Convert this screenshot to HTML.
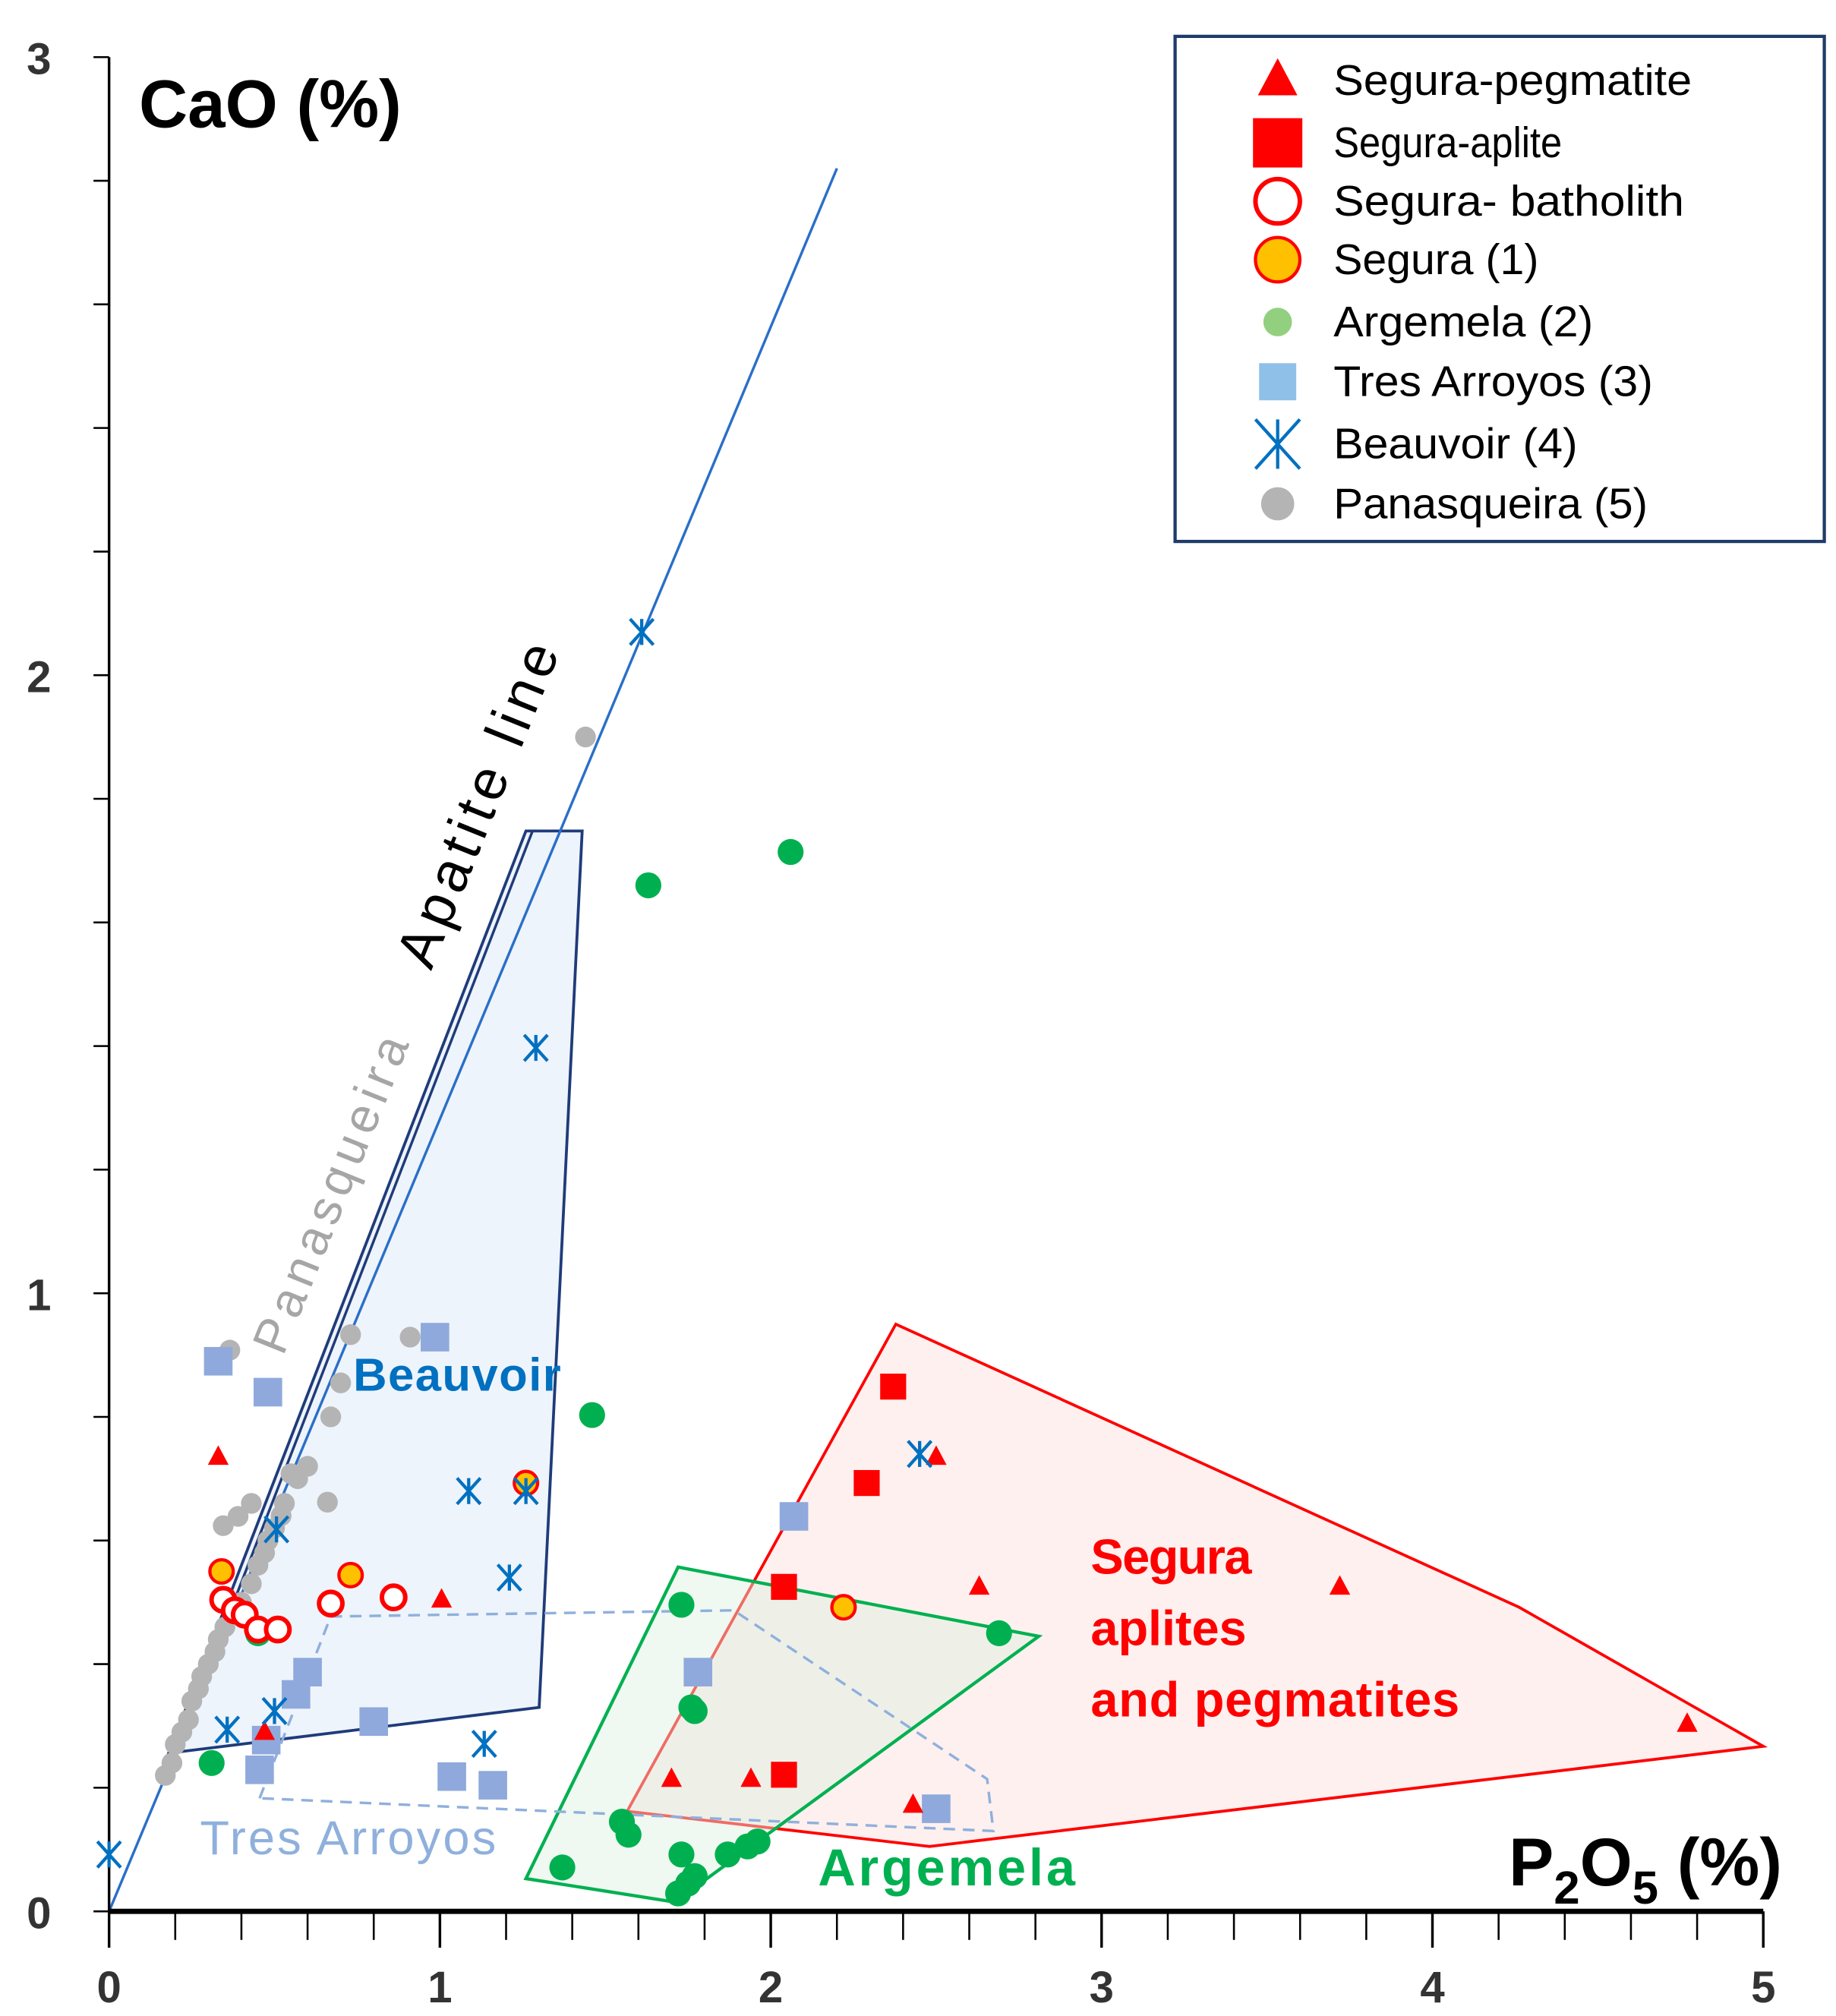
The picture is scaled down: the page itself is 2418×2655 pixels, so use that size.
<!DOCTYPE html>
<html><head><meta charset="utf-8"><style>
html,body{margin:0;padding:0;background:#fff;}
svg{display:block;}
text{font-family:"Liberation Sans","DejaVu Sans",sans-serif;}
</style></head>
<body>
<svg id="chart" xmlns="http://www.w3.org/2000/svg" width="2418" height="2655" viewBox="0 0 1414 1552.6">
<g id="regions"></g>
<g id="axes"></g>
<g id="labels"></g>
<g id="marks"></g>
<g id="legend"></g>
</svg>
<script>
// ---- data (x = P2O5 %, y = CaO %) ----
const xTicks = [0,1,2,3,4,5];
const yTicks = [0,1,2,3];
const pegX = [0.33,1.005,1.70,1.94,2.43,2.50,2.63,3.72,4.77,0.47];
const pegY = [0.735,0.504,0.214,0.214,0.172,0.735,0.525,0.525,0.303,0.29];
const apliteX = [2.37,2.29,2.04,2.04];
const apliteY = [0.849,0.693,0.525,0.221];
const bathX = [0.345,0.38,0.41,0.45,0.51,0.67,0.86];
const bathY = [0.504,0.487,0.48,0.456,0.456,0.498,0.508];
const seg1X = [0.34,0.73,1.26,2.22];
const seg1Y = [0.55,0.544,0.693,0.492];
const argX = [0.31,1.46,1.63,2.06,1.73,2.69,1.77,1.76,1.55,1.57,1.37,1.73,1.77,1.72,1.87,1.93,1.96,0.45,1.75];
const argY = [0.24,0.803,1.66,1.714,0.496,0.45,0.324,0.33,0.145,0.124,0.071,0.092,0.057,0.029,0.092,0.105,0.113,0.45,0.045];
const tresX = [0.33,0.48,0.985,2.07,1.78,0.60,0.565,0.80,0.455,0.475,1.036,1.16,2.50];
const tresY = [0.89,0.84,0.929,0.639,0.387,0.387,0.351,0.307,0.229,0.277,0.218,0.204,0.166];
const beauX = [0,1.61,1.29,1.087,1.26,1.21,1.134,0.506,0.50,0.357,2.45];
const beauY = [0.092,2.07,1.397,0.68,0.68,0.54,0.271,0.618,0.324,0.294,0.74];
const panX = [0.17,0.19,0.2,0.22,0.24,0.25,0.27,0.28,0.3,0.32,0.33,0.35,0.38,0.4,0.43,0.45,0.48,0.5,0.53,0.57,0.6,1.44,0.73,0.91,0.70,0.67,0.365,0.66,0.345,0.39,0.43,0.55,0.52,0.47];
const panY = [0.22,0.24,0.27,0.29,0.31,0.34,0.36,0.38,0.4,0.42,0.44,0.46,0.48,0.5,0.53,0.56,0.6,0.62,0.66,0.7,0.72,1.90,0.933,0.929,0.855,0.80,0.908,0.662,0.624,0.639,0.66,0.708,0.64,0.58];
const apatiteX = [0,2.2];
const apatiteY = [0,2.82];
const beauPolyX = [0.18,1.26,1.43,1.30];
const beauPolyY = [0.256,1.748,1.748,0.33];
const beauPoly2X = [0.20,1.28];
const beauPoly2Y = [0.256,1.748];
const segPolyX = [1.566,2.378,4.262,5.0,2.48];
const segPolyY = [0.162,0.95,0.492,0.267,0.105];
const argPolyX = [1.26,1.72,2.81,1.71];
const argPolyY = [0.053,0.557,0.445,0.015];
const tresPolyX = [0.455,0.67,1.888,2.654,2.673,0.455];
const tresPolyY = [0.183,0.477,0.487,0.214,0.13,0.183];

// ---- scales ----
const X0=84, XU=254.8, Y0=1472, YU=476;
const sx = v => X0 + v*XU;
const sy = v => Y0 - v*YU;
const NS='http://www.w3.org/2000/svg';
function mk(tag, attrs, parent){const e=document.createElementNS(NS,tag);for(const k in attrs)e.setAttribute(k,attrs[k]);parent.appendChild(e);return e;}
const regions=document.getElementById('regions'), axes=document.getElementById('axes'), labels=document.getElementById('labels'), marks=document.getElementById('marks'), legend=document.getElementById('legend');
const pts=(xs,ys)=>xs.map((x,i)=>sx(x)+','+sy(ys[i])).join(' ');

// polygons
let p;
p=mk('polygon',{points:pts(segPolyX,segPolyY),fill:'#fdf0ef',stroke:'#ff0000','stroke-width':2.2},regions);


p=mk('polygon',{points:pts(beauPolyX,beauPolyY),fill:'#eef4fb',stroke:'#1f3b7a','stroke-width':2.2},regions);


p=mk('polyline',{points:pts(beauPoly2X,beauPoly2Y),fill:'none',stroke:'#1f3b7a','stroke-width':2},regions);


p=mk('polygon',{points:pts(argPolyX,argPolyY),fill:'rgba(220,240,225,0.45)',stroke:'#00b050','stroke-width':2.5},regions);


p=mk('polyline',{points:pts(tresPolyX,tresPolyY),fill:'none',stroke:'#8fb0dc','stroke-width':2,'stroke-dasharray':'9,6'},regions);


p=mk('line',{x1:sx(apatiteX[0]),y1:sy(apatiteY[0]),x2:sx(apatiteX[1]),y2:sy(apatiteY[1]),stroke:'#2a6fc9','stroke-width':2},regions);



// axes
p=mk('line',{x1:sx(0),y1:sy(0),x2:sx(5),y2:sy(0),stroke:'#000','stroke-width':4},axes);


p=mk('line',{x1:sx(0),y1:sy(0),x2:sx(0),y2:sy(3),stroke:'#000','stroke-width':2},axes);


for(let i=0;i<=25;i++){const v=i*0.2;const major=i%5===0;
  p=mk('line',{x1:sx(v),y1:sy(0),x2:sx(v),y2:sy(0)+(major?28:22),stroke:'#000','stroke-width':major?2:1.5},axes);
  
  }
for(let i=0;i<=15;i++){const v=i*0.2;
  p=mk('line',{x1:sx(0)-12,y1:sy(v),x2:sx(0),y2:sy(v),stroke:'#000','stroke-width':1.5},axes);
  
  }
xTicks.forEach(v=>{const t=mk('text',{x:sx(v),y:1542,'text-anchor':'middle','font-size':34,'font-weight':'bold',fill:'#333'},axes);t.textContent=v;
  
  });
yTicks.forEach(v=>{const t=mk('text',{x:30,y:sy(v)+13,'text-anchor':'middle','font-size':34,'font-weight':'bold',fill:'#333'},axes);t.textContent=v;
  
  });
let t=mk('text',{x:107,y:98,'font-size':52,'font-weight':'bold',fill:'#000'},axes);t.textContent='CaO (%)';


t=mk('text',{x:1162,y:1452,'font-size':52,'font-weight':'bold',fill:'#000'},axes);
t.innerHTML='P<tspan font-size="36" dy="14">2</tspan><tspan dy="-14">O</tspan><tspan font-size="36" dy="14">5</tspan><tspan dy="-14"> (%)</tspan>';



// field labels
function lab(txt,x,y,size,fill,rot,name,len,weight){const a={x:x,y:y,'font-size':size,fill:fill};if(rot)a.transform='rotate('+rot+' '+x+' '+y+')';if(len)a.textLength=len;if(weight)a['font-weight']=weight;const e=mk('text',a,labels);e.textContent=txt;
  
  return e;}
lab('Apatite line',332,748,44,'#000',-68,'apatite-line-label',265);
lab('Panasqueira',218,1045,38,'#a6a6a6',-68,'panasqueira-label',260);
lab('Beauvoir',272,1071,36,'#0070c0',0,'beauvoir-label',160,'bold');
lab('Tres Arroyos',154,1428,37,'#8fb0dc',0,'tres-arroyos-label',228);
lab('Argemela',630,1452,40,'#00b050',0,'argemela-label',198,'bold');
lab('Segura',840,1212,38,'#ff0000',0,'segura-label-1',124,'bold');
lab('aplites',840,1267,38,'#ff0000',0,'segura-label-2',120,'bold');
lab('and pegmatites',840,1322,38,'#ff0000',0,'segura-label-3',284,'bold');

// markers
function marker(type,x,y,parent,scale){const s=scale||1;let e;
  if(type==='tri'){e=mk('polygon',{points:`${x},${y-9*s} ${x-8*s},${y+6*s} ${x+8*s},${y+6*s}`,fill:'#ff0000'},parent);}
  else if(type==='sq'){e=mk('rect',{x:x-10*s,y:y-10*s,width:20*s,height:20*s,fill:'#ff0000'},parent);}
  else if(type==='open'){e=mk('circle',{cx:x,cy:y,r:9*s,fill:'#fff',stroke:'#ff0000','stroke-width':3.5},parent);}
  else if(type==='yel'){e=mk('circle',{cx:x,cy:y,r:9*s,fill:'#ffc000',stroke:'#ff0000','stroke-width':2.5},parent);}
  else if(type==='grn'){e=mk('circle',{cx:x,cy:y,r:10*s,fill:'#00b050'},parent);}
  else if(type==='tres'){e=mk('rect',{x:x-11*s,y:y-11*s,width:22*s,height:22*s,fill:'#8fa9dc'},parent);}
  else if(type==='bx'){e=mk('path',{d:`M${x-9*s},${y-10*s}L${x+9*s},${y+10*s}M${x+9*s},${y-10*s}L${x-9*s},${y+10*s}M${x},${y-10*s}L${x},${y+10*s}`,stroke:'#0070c0','stroke-width':2.5,fill:'none'},parent);}
  else if(type==='pan'){e=mk('circle',{cx:x,cy:y,r:8*s,fill:'#b4b4b4'},parent);}
  return e;}
function series(type,xs,ys,name){const g=mk('g',{},marks);
  
  
  xs.forEach((v,i)=>{const e=marker(type,sx(v),sy(ys[i]),g);
    
    });}
series('pan',panX,panY,'panasqueira');
series('tres',tresX,tresY,'tres-arroyos');
series('grn',argX,argY,'argemela');
series('open',bathX,bathY,'segura-batholith');
series('yel',seg1X,seg1Y,'segura-1');
series('sq',apliteX,apliteY,'segura-aplite');
series('tri',pegX,pegY,'segura-pegmatite');
series('bx',beauX,beauY,'beauvoir');

// legend
let r=mk('rect',{x:905,y:28,width:500,height:389,fill:'#fff',stroke:'#1f3b6a','stroke-width':2.5},legend);


const legTypes=['tri','sq','open','yel','grn','tres','bx','pan'];
const legNames=['Segura-pegmatite','Segura-aplite','Segura- batholith','Segura (1)','Argemela (2)','Tres Arroyos (3)','Beauvoir (4)','Panasqueira (5)'];
const legLens=[276,176,270,158,200,246,188,242];
const legY=[62,110,155,200,248,294,342,388];
legNames.forEach((n,i)=>{const g=mk('g',{},legend);
  
  
  let type=legTypes[i];
  const m=marker(type,984,legY[i],g,type==='grn'?1.1:(type==='pan'?1.6:(type==='tres'?1.3:1.9)));
  if(type==='grn')m.setAttribute('fill','#92d07f');
  if(type==='tres')m.setAttribute('fill','#8fc0e8');
  
  
  const tx=mk('text',{x:1027,y:legY[i]+11,'font-size':33,fill:'#000',textLength:legLens[i],lengthAdjust:'spacingAndGlyphs'},g);
  tx.textContent=n;
  
  });
</script>
</body></html>
